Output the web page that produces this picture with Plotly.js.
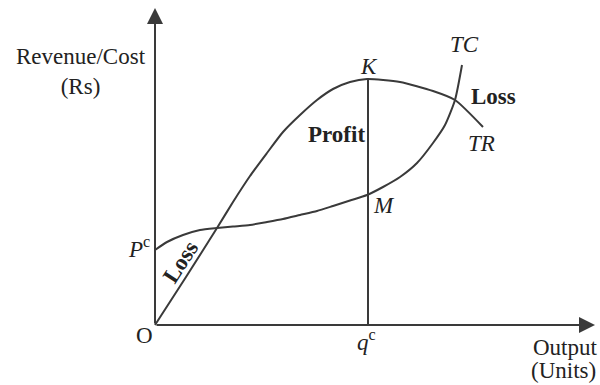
<!DOCTYPE html>
<html>
<head>
<meta charset="utf-8">
<script src="https://cdn.plot.ly/plotly-3.0.1.min.js"></script>
<style>
  html, body { margin: 0; padding: 0; background: #fff; }
  #plot { width: 600px; height: 385px; }
</style>
</head>
<body>
<div id="plot"></div>
<script>
// Output (x) and revenue / cost (y)
const trOutput = [0, 31, 62, 78, 95, 112, 128, 145, 162, 178, 195, 212, 245, 278, 300, 328];
const trValue  = [0, 48, 97, 123, 149, 172, 193, 210, 225, 236, 243, 246, 243, 234, 225, 198];

const tcOutput = [0, 12, 28, 45, 62, 78, 95, 112, 128, 145, 162, 178, 195, 212, 228, 245, 262, 278, 290, 300, 307];
const tcValue  = [75, 83, 90, 95, 97, 98.5, 100, 103, 106, 110, 114, 119, 124.5, 130, 138, 148, 162, 182, 200, 225, 260];

// profit-maximising output q^c and the two points on it
const qc = 213;
const pointK = 246;
const pointM = 130;

const axisTop = 317;
const axisRight = 440;

const serif = 'Liberation Serif, Times New Roman, serif';
const ink = '#3a3a3a';

const data = [
    {
        x: trOutput, y: trValue,
        type: 'scatter', mode: 'lines',
        line: { color: ink, width: 2, shape: 'spline', smoothing: 0.6 },
        name: 'TR', hoverinfo: 'skip'
    },
    {
        x: tcOutput, y: tcValue,
        type: 'scatter', mode: 'lines',
        line: { color: ink, width: 2, shape: 'spline', smoothing: 0.6 },
        name: 'TC', hoverinfo: 'skip'
    },
    {
        x: [qc, qc], y: [0, pointK],
        type: 'scatter', mode: 'lines',
        line: { color: ink, width: 2 },
        name: 'qc', hoverinfo: 'skip'
    }
];

function label(x, y, text, extra) {
    return Object.assign({
        x: x, y: y, xref: 'x', yref: 'y',
        text: text, showarrow: false,
        font: { family: serif, size: 23, color: '#222' }
    }, extra || {});
}

function axisArrow(x, y) {
    return {
        x: x, y: y, ax: 0, ay: 0,
        xref: 'x', yref: 'y', axref: 'x', ayref: 'y',
        text: '', showarrow: true,
        arrowhead: 2, arrowsize: 1.6, arrowwidth: 2,
        arrowcolor: ink, standoff: 0, startstandoff: 0
    };
}

const layout = {
    width: 600, height: 385,
    margin: { l: 0, r: 0, t: 0, b: 0 },
    paper_bgcolor: '#fff', plot_bgcolor: '#fff',
    showlegend: false,
    xaxis: { range: [-155, 445], visible: false, fixedrange: true },
    yaxis: { range: [-60, 325], visible: false, fixedrange: true },
    annotations: [
        axisArrow(0, axisTop),
        axisArrow(axisRight, 0),
        label(-74, 254, 'Revenue/Cost<br>(Rs)'),
        label(410, -22, 'Output'),
        label(408, -45, '(Units)'),
        label(-11, -10, 'O'),
        label(qc - 2, -15, '<i>q</i><sup>c</sup>'),
        label(-3, 78, '<i>P</i><sup>c</sup>', { xanchor: 'right' }),
        label(qc + 1, pointK + 13, '<i>K</i>'),
        label(qc + 16, pointM - 10, '<i>M</i>'),
        label(309, 281, '<i>TC</i>'),
        label(326, 182, '<i>TR</i>'),
        label(181, 191, '<b>Profit</b>'),
        label(338, 229, '<b>Loss</b>'),
        label(25, 63, '<b>Loss</b>', { textangle: -57 })
    ]
};

Plotly.newPlot('plot', data, layout, { displayModeBar: false, staticPlot: true });
</script>
</body>
</html>
